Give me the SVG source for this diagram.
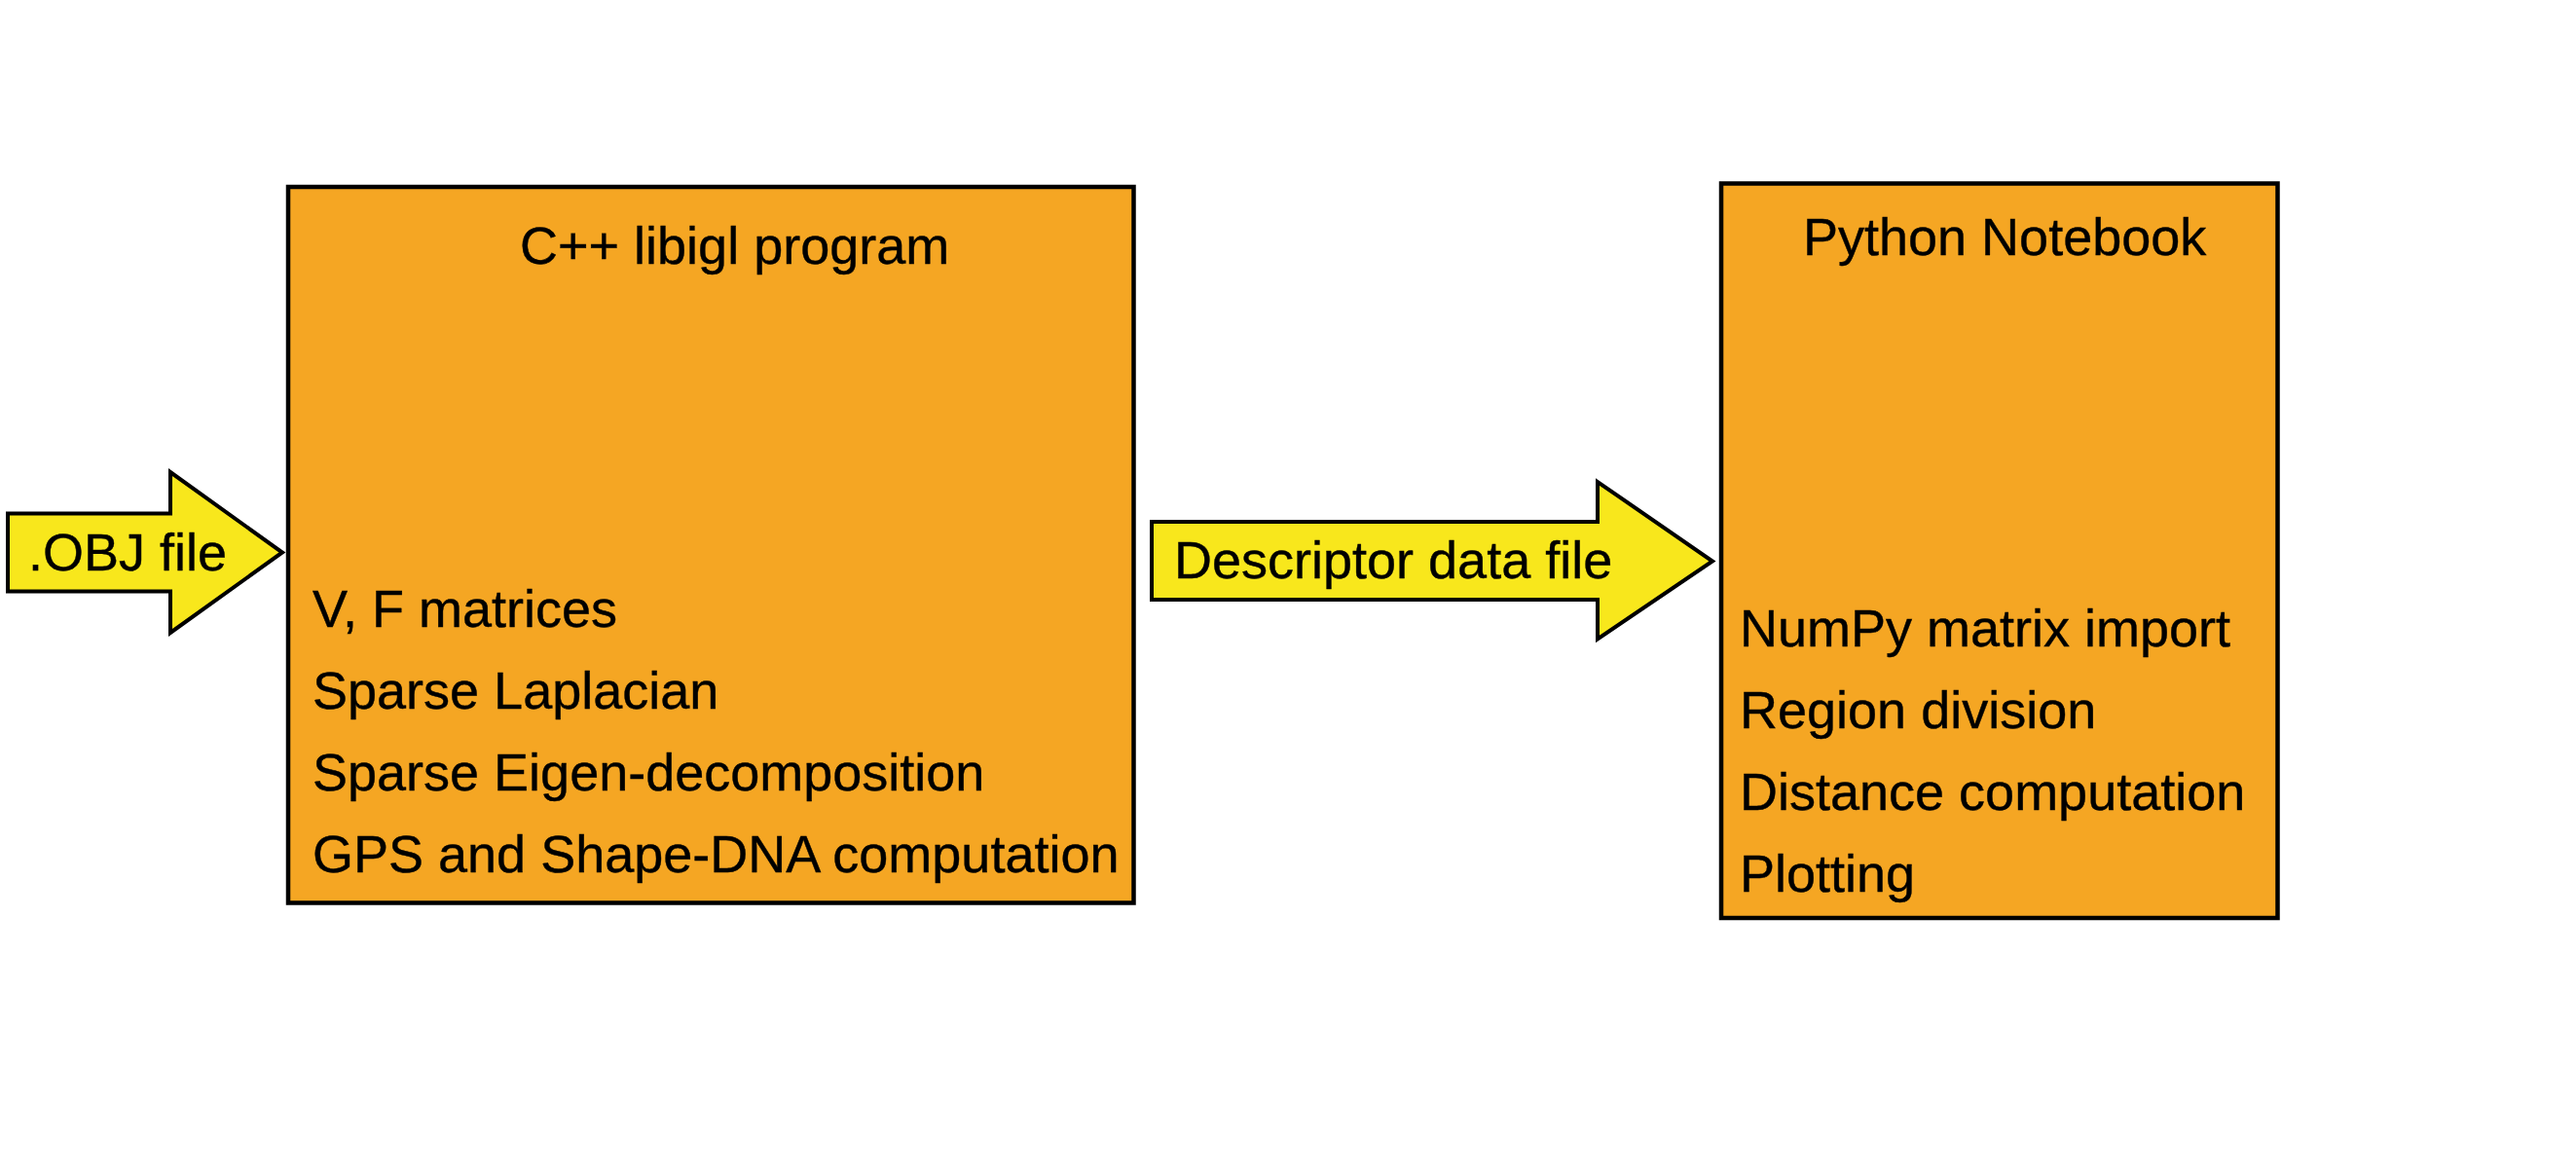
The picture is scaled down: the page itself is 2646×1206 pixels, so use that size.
<svg xmlns="http://www.w3.org/2000/svg" width="2646" height="1206" viewBox="0 0 2646 1206">
<style>
.box{fill:#F5A623;stroke:#000;stroke-width:4.5}
.arrow{fill:#F8E71C;stroke:#000;stroke-width:4;stroke-linejoin:miter}
.t{font-family:"Liberation Sans",Arial,sans-serif;font-size:54px;fill:#000;stroke:#000;stroke-width:0.4}
</style>
<rect width="2646" height="1206" fill="#fff"/>
<g id="connectors">
<g id="obj-arrow">
<polygon class="arrow" points="8,527.5 175,527.5 175,485 290,567.5 175,650 175,607.5 8,607.5"/>
<text class="t" x="29" y="586">.OBJ file</text>
</g>
<g id="descriptor-arrow">
<polygon class="arrow" points="1183,536 1641,536 1641,495 1759,576.5 1641,656.5 1641,616 1183,616"/>
<text class="t" x="1206" y="594">Descriptor data file</text>
</g>
</g>
<g id="cpp-program">
<rect class="box" x="296" y="192" width="868.5" height="735.5"/>
<text class="t" x="534" y="270.5">C++ libigl program</text>
<text class="t" x="321" y="644">V, F matrices</text>
<text class="t" x="321" y="728">Sparse Laplacian</text>
<text class="t" x="321" y="812">Sparse Eigen-decomposition</text>
<text class="t" x="321" y="896">GPS and Shape-DNA computation</text>
</g>
<g id="python-notebook">
<rect class="box" x="1768" y="188.5" width="571.5" height="754.5"/>
<text class="t" x="1852" y="262">Python Notebook</text>
<text class="t" x="1787" y="664">NumPy matrix import</text>
<text class="t" x="1787" y="748">Region division</text>
<text class="t" x="1787" y="831.5">Distance computation</text>
<text class="t" x="1787" y="915.5">Plotting</text>
</g>
</svg>
